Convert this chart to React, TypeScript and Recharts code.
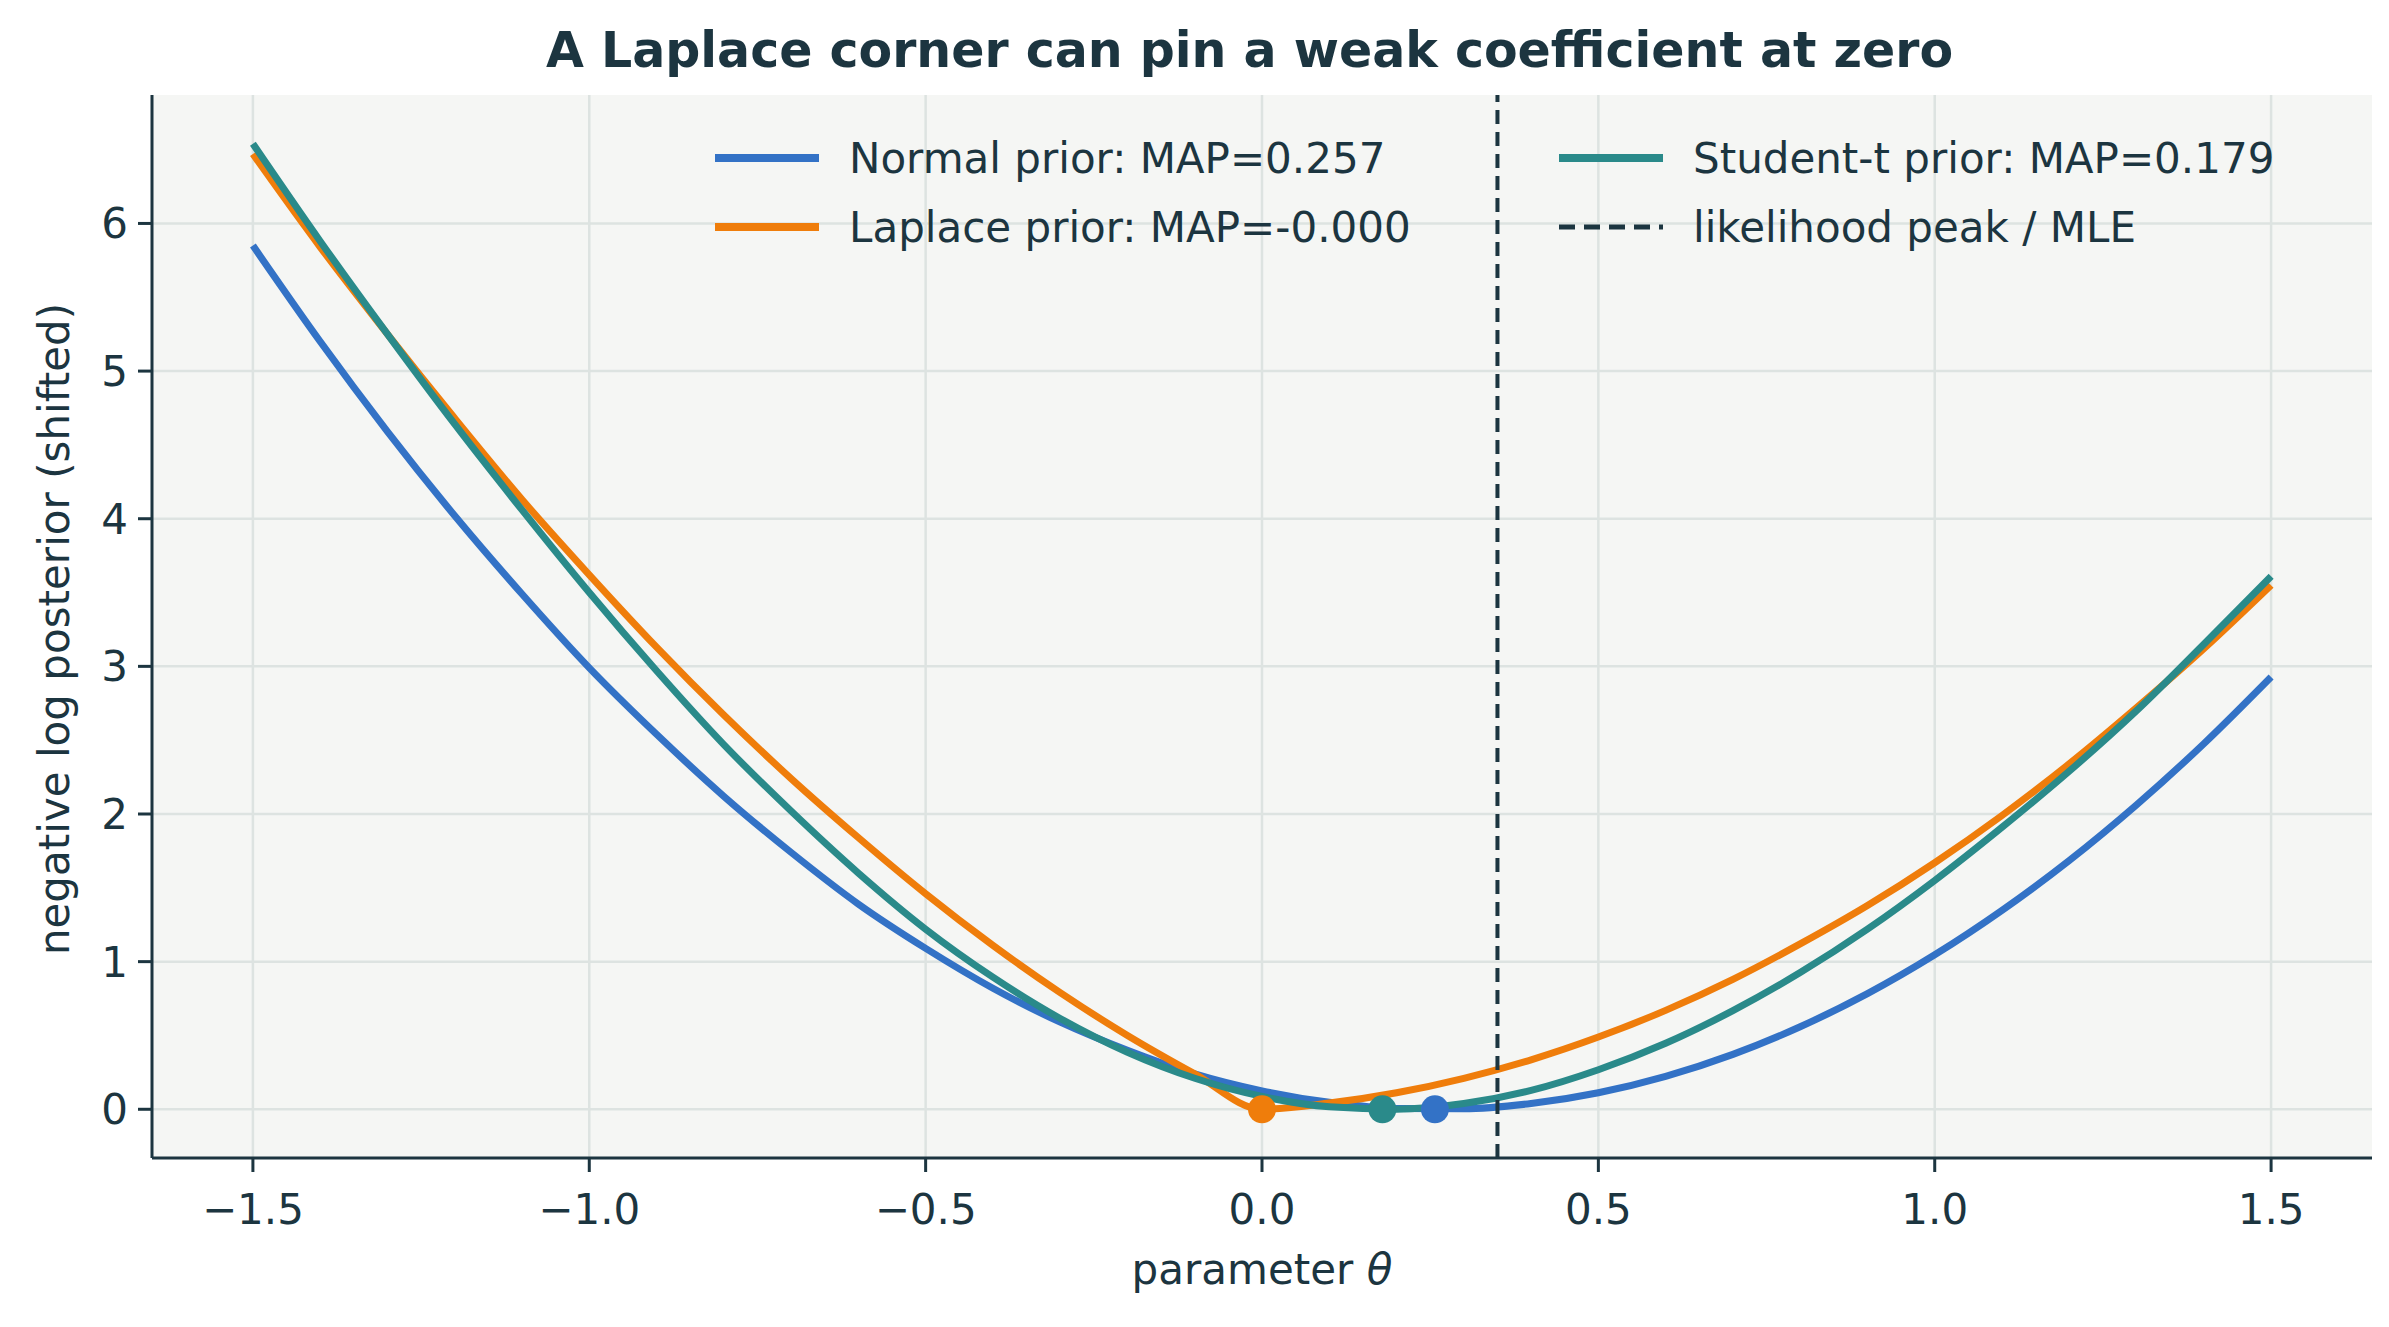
import React from "react";
import { ComposedChart, Line, Scatter, XAxis, YAxis, CartesianGrid, ReferenceLine } from "recharts";

if (typeof document !== "undefined") document.body.style.margin = "0";

const thetas = [-1.5,-1.4,-1.3,-1.2,-1.1,-1.0,-0.9,-0.8,-0.7,-0.6,-0.5,-0.4,-0.3,-0.2,-0.1,0,0.1,0.2,0.3,0.4,0.5,0.6,0.7,0.8,0.9,1.0,1.1,1.2,1.3,1.4,1.5];
const normalVals = [5.85,5.20,4.59,4.02,3.49,2.99,2.54,2.12,1.74,1.39,1.09,0.82,0.59,0.40,0.24,0.125,0.047,0.006,0.004,0.039,0.112,0.223,0.372,0.559,0.783,1.046,1.347,1.685,2.062,2.476,2.928];
const laplaceVals = [6.47,5.84,5.25,4.68,4.13,3.62,3.13,2.67,2.24,1.84,1.46,1.11,0.79,0.50,0.24,0,0.042,0.112,0.21,0.335,0.489,0.67,0.88,1.12,1.38,1.67,1.99,2.34,2.72,3.12,3.55];
const studentVals = [6.54,5.88,5.25,4.64,4.06,3.50,2.97,2.47,2.02,1.60,1.22,0.895,0.615,0.386,0.21,0.087,0.017,0.001,0.039,0.128,0.268,0.447,0.668,0.926,1.22,1.55,1.91,2.29,2.70,3.15,3.61];
const mapPoints = [
  { x: 0.0, y: 0, c: "#ef7d0b" },
  { x: 0.179, y: 0, c: "#2a8a8a" },
  { x: 0.257, y: 0, c: "#3372c6" },
];
const mle = 0.35;
const xTicks = [-1.5, -1.0, -0.5, 0.0, 0.5, 1.0, 1.5];
const yTicks = [0, 1, 2, 3, 4, 5, 6];

const BLUE = "#3372c6";
const ORANGE = "#ef7d0b";
const TEAL = "#2a8a8a";
const DARK = "#1c3540";
const FONT = "DejaVu Sans, sans-serif";

const data = thetas.map((t, i) => ({ x: t, normal: normalVals[i], laplace: laplaceVals[i], student: studentVals[i] }));

const fmtX = (v: number) => (v < 0 ? "\u2212" + Math.abs(v).toFixed(1) : v.toFixed(1));

const Dot = (props: any) => {
  const { cx, cy, payload } = props;
  return <circle cx={cx} cy={cy} r={14} fill={payload.c} />;
};

const legendItems = [
  { label: "Normal prior: MAP=0.257", color: BLUE, dash: false, x: 715, y: 158 },
  { label: "Laplace prior: MAP=-0.000", color: ORANGE, dash: false, x: 715, y: 227 },
  { label: "Student-t prior: MAP=0.179", color: TEAL, dash: false, x: 1559, y: 158 },
  { label: "likelihood peak / MLE", color: DARK, dash: true, x: 1559, y: 227 },
];

export default function App() {
  return (
    <div style={{ position: "relative", width: 2389, height: 1327, background: "#fff", fontFamily: FONT }}>
      <div style={{ position: "absolute", top: 22, left: 0, width: 2389, paddingLeft: 110, boxSizing: "border-box", textAlign: "center", fontSize: 49, fontWeight: "bold", color: DARK }}>
        A Laplace corner can pin a weak coefficient at zero
      </div>
      <ComposedChart width={2389} height={1327} data={data} margin={{ top: 95, right: 17, left: 42, bottom: 109 }}>
        <CartesianGrid fill="#f5f6f4" stroke="#dde3e1" strokeWidth={2.5} verticalValues={xTicks} horizontalValues={yTicks} />
        <XAxis dataKey="x" type="number" domain={[-1.65, 1.65]} ticks={xTicks} tickFormatter={fmtX} allowDataOverflow
          height={60} axisLine={{ stroke: DARK, strokeWidth: 3 }} tickLine={{ stroke: DARK, strokeWidth: 3 }} tickSize={14}
          tick={{ fill: DARK, fontSize: 42, fontFamily: FONT, dy: 20 }} />
        <YAxis type="number" domain={[-0.33, 6.87]} ticks={yTicks} allowDataOverflow width={110}
          axisLine={{ stroke: DARK, strokeWidth: 3 }} tickLine={{ stroke: DARK, strokeWidth: 3 }} tickSize={14}
          tick={{ fill: DARK, fontSize: 42, fontFamily: FONT, dx: -8 }} />
        <Line dataKey="normal" type="monotone" stroke={BLUE} strokeWidth={7} dot={false} isAnimationActive={false} />
        <Line dataKey="laplace" type="monotone" stroke={ORANGE} strokeWidth={7} dot={false} isAnimationActive={false} />
        <Line dataKey="student" type="monotone" stroke={TEAL} strokeWidth={7} dot={false} isAnimationActive={false} />
        <ReferenceLine x={mle} stroke={DARK} strokeWidth={4} strokeDasharray="14 8" />
        <Scatter data={mapPoints} dataKey="y" shape={<Dot />} isAnimationActive={false} />
      </ComposedChart>
      {legendItems.map((it) => (
        <div key={it.label} style={{ position: "absolute", left: it.x, top: it.y - 30, height: 60, display: "flex", alignItems: "center" }}>
          <svg width={104} height={20} style={{ marginRight: 30 }}>
            <line x1={0} y1={10} x2={104} y2={10} stroke={it.color} strokeWidth={it.dash ? 5 : 8} strokeDasharray={it.dash ? "16 9" : undefined} />
          </svg>
          <span style={{ fontSize: 42, color: DARK, whiteSpace: "nowrap" }}>{it.label}</span>
        </div>
      ))}
      <div style={{ position: "absolute", left: 0, top: 1245, width: 2389, paddingLeft: 152, paddingRight: 17, boxSizing: "border-box", textAlign: "center", fontSize: 42, color: DARK }}>
        parameter <i>θ</i>
      </div>
      <div style={{ position: "absolute", left: 54, top: 629, transform: "translate(-50%, -50%) rotate(-90deg)", fontSize: 42, color: DARK, whiteSpace: "nowrap" }}>
        negative log posterior (shifted)
      </div>
    </div>
  );
}
